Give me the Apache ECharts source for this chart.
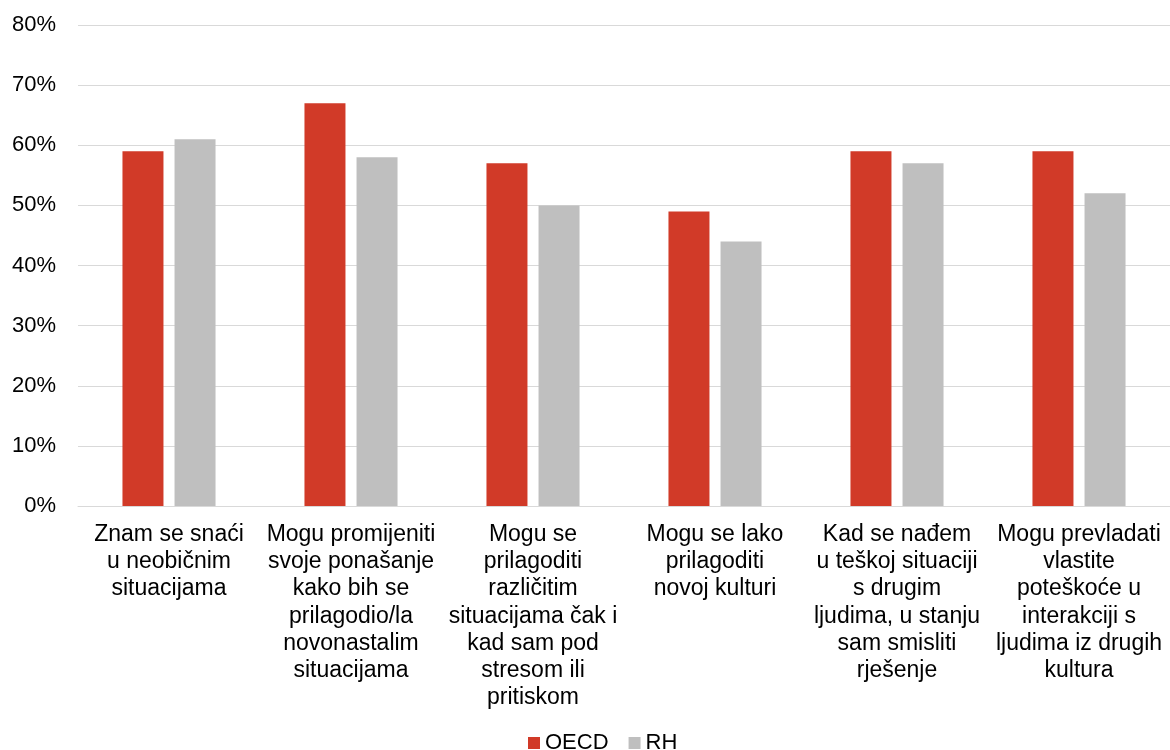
<!DOCTYPE html>
<html>
<head>
<meta charset="utf-8">
<script src="https://cdn.jsdelivr.net/npm/echarts@6/dist/echarts.min.js"></script>
<style>
  html, body { margin: 0; padding: 0; background: #fff; }
  #chart { width: 1170px; height: 750px; }
</style>
</head>
<body>
<div id="chart"></div>
<script>
// Category labels (line breaks as they are wrapped under the axis)
const categories = [
  'Znam se snaći\nu neobičnim\nsituacijama',
  'Mogu promijeniti\nsvoje ponašanje\nkako bih se\nprilagodio/la\nnovonastalim\nsituacijama',
  'Mogu se\nprilagoditi\nrazličitim\nsituacijama čak i\nkad sam pod\nstresom ili\npritiskom',
  'Mogu se lako\nprilagoditi\nnovoj kulturi',
  'Kad se nađem\nu teškoj situaciji\ns drugim\nljudima, u stanju\nsam smisliti\nrješenje',
  'Mogu prevladati\nvlastite\npoteškoće u\ninterakciji s\nljudima iz drugih\nkultura'
];

// Share of students agreeing, in percent
const oecdValues = [59, 67, 57, 49, 59, 59];
const rhValues = [61, 58, 50, 44, 57, 52];

const seriesNames = ['OECD', 'RH'];

const chart = echarts.init(document.getElementById('chart'), null, { renderer: 'canvas' });

const font = 'Arial, "Liberation Sans", sans-serif';

chart.setOption({
  animation: false,
  backgroundColor: '#ffffff',
  textStyle: { fontFamily: font },
  grid: { left: 78, right: 0, top: 25, bottom: 244, containLabel: false },
  legend: {
    data: seriesNames,
    left: 523,
    top: 727,
    itemWidth: 12,
    itemHeight: 12,
    itemGap: 20,
    icon: 'rect',
    textStyle: { fontFamily: font, fontSize: 22, color: '#000' }
  },
  xAxis: {
    type: 'category',
    data: categories,
    axisLine: { show: true, lineStyle: { color: '#d9d9d9', width: 1 } },
    axisTick: { show: false },
    axisLabel: {
      interval: 0,
      color: '#000',
      fontFamily: font,
      fontSize: 23,
      lineHeight: 27.2,
      margin: 15,
      align: 'center'
    }
  },
  yAxis: {
    type: 'value',
    min: 0,
    max: 80,
    interval: 10,
    axisLine: { show: false },
    axisTick: { show: false },
    splitLine: { lineStyle: { color: '#d9d9d9', width: 1 } },
    axisLabel: {
      formatter: '{value}%',
      color: '#000',
      fontFamily: font,
      fontSize: 22,
      margin: 22
    }
  },
  series: [
    {
      name: seriesNames[0],
      type: 'bar',
      data: oecdValues,
      barWidth: 41,
      barGap: '27%',
      itemStyle: { color: '#d13a28' }
    },
    {
      name: seriesNames[1],
      type: 'bar',
      data: rhValues,
      barWidth: 41,
      barGap: '27%',
      itemStyle: { color: '#bfbfbf' }
    }
  ]
});
</script>
</body>
</html>
